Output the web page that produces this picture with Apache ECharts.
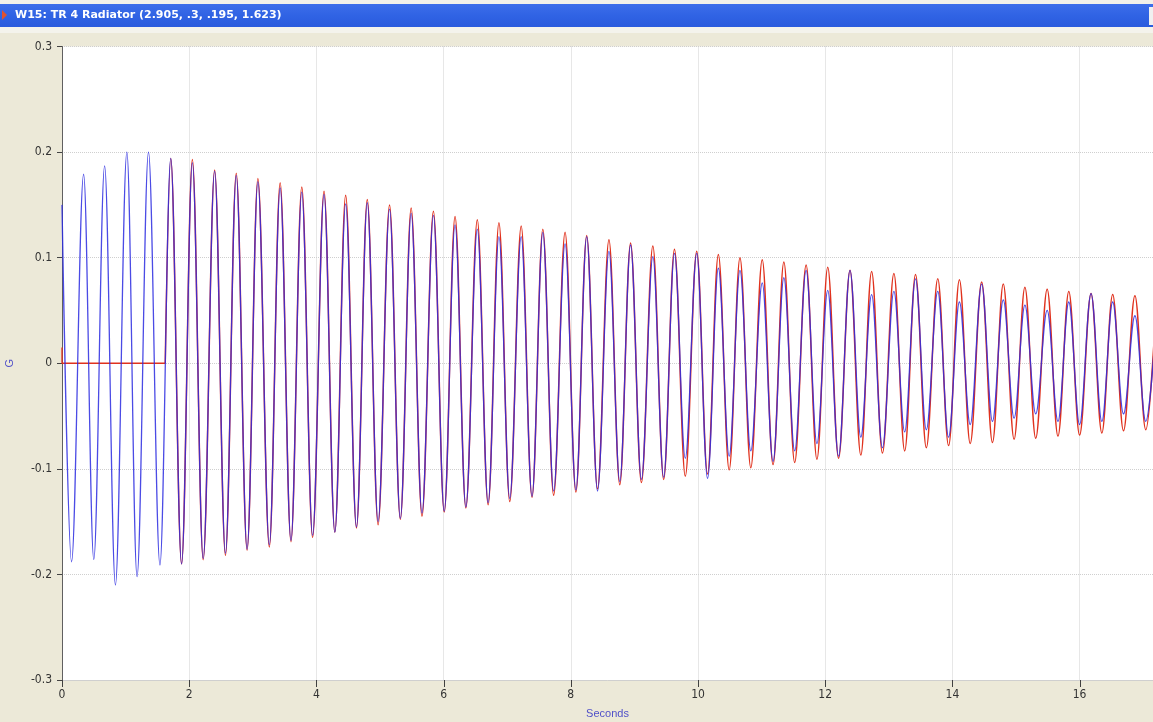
<!DOCTYPE html>
<html>
<head>
<meta charset="utf-8">
<script src="https://cdn.jsdelivr.net/npm/echarts@6/dist/echarts.min.js"></script>
<style>
  html, body { margin: 0; padding: 0; background: #ECE9D8; }
  #chart { width: 1153px; height: 722px; }
</style>
</head>
<body>
<div id="chart"></div>
<script>
// ---- Data ----
const titleText = 'W15: TR 4 Radiator (2.905, .3, .195, 1.623)';
const xTicks = [0, 2, 4, 6, 8, 10, 12, 14, 16];
const yTicks = [-0.3, -0.2, -0.1, 0, 0.1, 0.2, 0.3];

// measured (blue) trace before the fit starts: times (s) and G values at its turning points
const blueLeadTimes  = [0, 0.15, 0.34, 0.50, 0.67, 0.84, 1.02, 1.18, 1.36, 1.54];
const blueLeadValues = [0.150, -0.188, 0.179, -0.186, 0.187, -0.210, 0.200, -0.202, 0.200, -0.191];

// fitted (red) trace before its start time
const redLeadTimes  = [0, 0, 1.623];
const redLeadValues = [0.015, 0, 0];
const redStart = [1.623, 0];

// turning points after the fit start (s)
const peakTimes = [1.71, 2.05, 2.40, 2.74, 3.08, 3.43, 3.77, 4.12, 4.46, 4.80, 5.15, 5.49, 5.84, 6.18, 6.53,
  6.87, 7.22, 7.56, 7.91, 8.25, 8.60, 8.94, 9.29, 9.63, 9.98, 10.32, 10.66, 11.01, 11.35, 11.70,
  12.04, 12.39, 12.73, 13.08, 13.42, 13.77, 14.11, 14.46, 14.80, 15.14, 15.49, 15.83, 16.18, 16.52, 16.87];
const troughTimes = [1.88, 2.22, 2.57, 2.91, 3.26, 3.60, 3.94, 4.29, 4.63, 4.97, 5.32, 5.66, 6.01, 6.35, 6.70,
  7.04, 7.39, 7.73, 8.08, 8.42, 8.77, 9.11, 9.46, 9.80, 10.15, 10.49, 10.83, 11.18, 11.52, 11.87,
  12.21, 12.56, 12.90, 13.25, 13.59, 13.94, 14.28, 14.63, 14.97, 15.31, 15.66, 16.00, 16.35, 16.69, 17.04];

const redPeaks = [0.194, 0.193, 0.183, 0.180, 0.175, 0.171, 0.167, 0.163, 0.159, 0.155, 0.150, 0.147, 0.144, 0.139, 0.136,
  0.133, 0.130, 0.127, 0.124, 0.121, 0.117, 0.114, 0.111, 0.108, 0.106, 0.103, 0.100, 0.098, 0.096, 0.093,
  0.091, 0.088, 0.087, 0.085, 0.084, 0.080, 0.079, 0.077, 0.075, 0.072, 0.070, 0.068, 0.066, 0.065, 0.064];
const redTroughs = [-0.190, -0.186, -0.182, -0.177, -0.174, -0.169, -0.165, -0.160, -0.156, -0.153, -0.148, -0.145, -0.141, -0.137, -0.134,
  -0.131, -0.127, -0.125, -0.122, -0.119, -0.115, -0.113, -0.110, -0.107, -0.105, -0.101, -0.099, -0.096, -0.094, -0.091,
  -0.090, -0.087, -0.085, -0.083, -0.080, -0.078, -0.076, -0.075, -0.072, -0.071, -0.069, -0.068, -0.066, -0.064, -0.063];

const bluePeaks = [0.194, 0.190, 0.182, 0.178, 0.172, 0.166, 0.162, 0.160, 0.151, 0.152, 0.146, 0.142, 0.140, 0.131, 0.127,
  0.120, 0.120, 0.124, 0.113, 0.120, 0.106, 0.112, 0.101, 0.104, 0.104, 0.090, 0.088, 0.076, 0.081, 0.088,
  0.069, 0.088, 0.065, 0.068, 0.080, 0.068, 0.058, 0.075, 0.060, 0.055, 0.050, 0.058, 0.066, 0.058, 0.045];
const blueTroughs = [-0.190, -0.185, -0.180, -0.176, -0.172, -0.168, -0.163, -0.160, -0.155, -0.150, -0.147, -0.142, -0.140, -0.136, -0.132,
  -0.128, -0.126, -0.121, -0.120, -0.121, -0.112, -0.110, -0.108, -0.090, -0.109, -0.088, -0.083, -0.093, -0.083, -0.076,
  -0.088, -0.070, -0.080, -0.065, -0.063, -0.070, -0.058, -0.055, -0.052, -0.048, -0.055, -0.058, -0.055, -0.048, -0.055];

// next turning point, just past the right edge of the plot
const tailTime = 17.21;
const redTail = 0.063;
const blueTail = 0.046;

// ---- Build series data ----
const redLead = redLeadTimes.map((t, i) => [t, redLeadValues[i]]);
const redData = [redStart];
const blueData = blueLeadTimes.map((t, i) => [t, blueLeadValues[i]]);
for (let i = 0; i < peakTimes.length; i++) {
  redData.push([peakTimes[i], redPeaks[i]]);
  redData.push([troughTimes[i], redTroughs[i]]);
  blueData.push([peakTimes[i], bluePeaks[i]]);
  blueData.push([troughTimes[i], blueTroughs[i]]);
}
redData.push([tailTime, redTail]);
blueData.push([tailTime, blueTail]);

const W = 1153, H = 722;
const gridLeft = 62, gridTop = 46.5, gridBottom = 42;
const xMax = (W - gridLeft) / 63.6;

const labelFont = "'Liberation Sans Narrow', 'DejaVu Sans Condensed', 'Liberation Sans', sans-serif";
const RED = '#E0321E';
const BLUE = '#2C2CE0';

const chart = echarts.init(document.getElementById('chart'), null, { width: W, height: H, renderer: 'canvas' });

chart.setOption({
  animation: false,
  backgroundColor: '#ECE9D8',
  graphic: [
    { type: 'rect', shape: { x: 0, y: 0, width: W, height: 4 }, style: { fill: '#F2F1EA' }, silent: true },
    { type: 'rect', shape: { x: 0, y: 4, width: W, height: 23 },
      style: { fill: new echarts.graphic.LinearGradient(0, 0, 0, 1, [
        { offset: 0, color: '#3D6EEA' }, { offset: 0.5, color: '#3063E4' }, { offset: 1, color: '#2A5BDD' }]) }, silent: true },
    { type: 'rect', shape: { x: 0, y: 27, width: W, height: 6 }, style: { fill: '#F4F3EC' }, silent: true },
    { type: 'rect', shape: { x: 1149, y: 7, width: 4, height: 18 }, style: { fill: '#F0F0F0' }, silent: true },
    { type: 'polygon', shape: { points: [[2, 10], [7, 15], [2, 20]] }, style: { fill: '#E0522E' }, silent: true },
    { type: 'text', x: 15, y: 15.5, style: { text: titleText, fill: '#FFFFFF',
      font: "bold 11px 'DejaVu Sans', 'Liberation Sans', sans-serif", verticalAlign: 'middle' }, silent: true }
  ],
  grid: {
    left: gridLeft, top: gridTop, right: 0, bottom: gridBottom,
    outerBoundsMode: 'none', containLabel: false,
    show: true, backgroundColor: '#FFFFFF', borderWidth: 0
  },
  xAxis: {
    type: 'value', position: 'bottom', min: 0, max: xMax, interval: 2,
    name: 'Seconds', nameLocation: 'middle', nameGap: 28,
    nameTextStyle: { color: '#5050C8', fontSize: 11, fontFamily: "'Liberation Sans', sans-serif" },
    axisLine: { show: true, onZero: false, lineStyle: { color: '#CFCFCF', width: 1 } },
    axisTick: { show: false },
    axisLabel: { color: '#333', fontSize: 12, fontFamily: labelFont, margin: 9,
      customValues: xTicks, formatter: v => String(Math.round(v)) },
    splitLine: { show: true, lineStyle: { color: '#CFCFCF', type: 'dotted', width: 1 } }
  },
  yAxis: {
    type: 'value', min: -0.3, max: 0.3, interval: 0.1,
    name: 'G', nameLocation: 'middle', nameGap: 47, nameRotate: 90,
    nameTextStyle: { color: '#5050C8', fontSize: 11, fontFamily: "'Liberation Sans', sans-serif" },
    axisLine: { show: true, onZero: false, lineStyle: { color: '#606060', width: 1 } },
    axisTick: { show: true, length: 5, lineStyle: { color: '#444' }, customValues: yTicks },
    axisLabel: { color: '#333', fontSize: 12, fontFamily: labelFont, margin: 10, customValues: yTicks,
      formatter: v => Math.abs(v) < 1e-9 ? '0' : v.toFixed(1) },
    splitLine: { show: true, lineStyle: { color: '#CFCFCF', type: 'dotted', width: 1 } }
  },
  series: [
    { name: 'fit-lead', type: 'line', data: redLead, showSymbol: false, symbol: 'none',
      lineStyle: { color: RED, width: 1.3 }, z: 3 },
    { name: 'fit', type: 'line', data: redData, showSymbol: false, symbol: 'none',
      smooth: 0.363, smoothMonotone: 'x', lineStyle: { color: RED, width: 1.5 }, z: 3 },
    { name: 'measured', type: 'line', data: blueData, showSymbol: false, symbol: 'none',
      smooth: 0.363, smoothMonotone: 'x', lineStyle: { color: BLUE, width: 1.3, opacity: 0.85 }, z: 4 },
    { name: 'x-ticks', type: 'custom', data: xTicks.map(t => [t]), clip: false, silent: true, z: 6,
      renderItem: (params, api) => {
        const p = api.coord([api.value(0), yTicks[0]]);
        const x = Math.round(p[0]) + 0.5;
        return { type: 'line', shape: { x1: x, y1: p[1], x2: x, y2: p[1] + 7 },
          style: { stroke: '#404040', lineWidth: 1 } };
      } }
  ]
});
</script>
</body>
</html>
